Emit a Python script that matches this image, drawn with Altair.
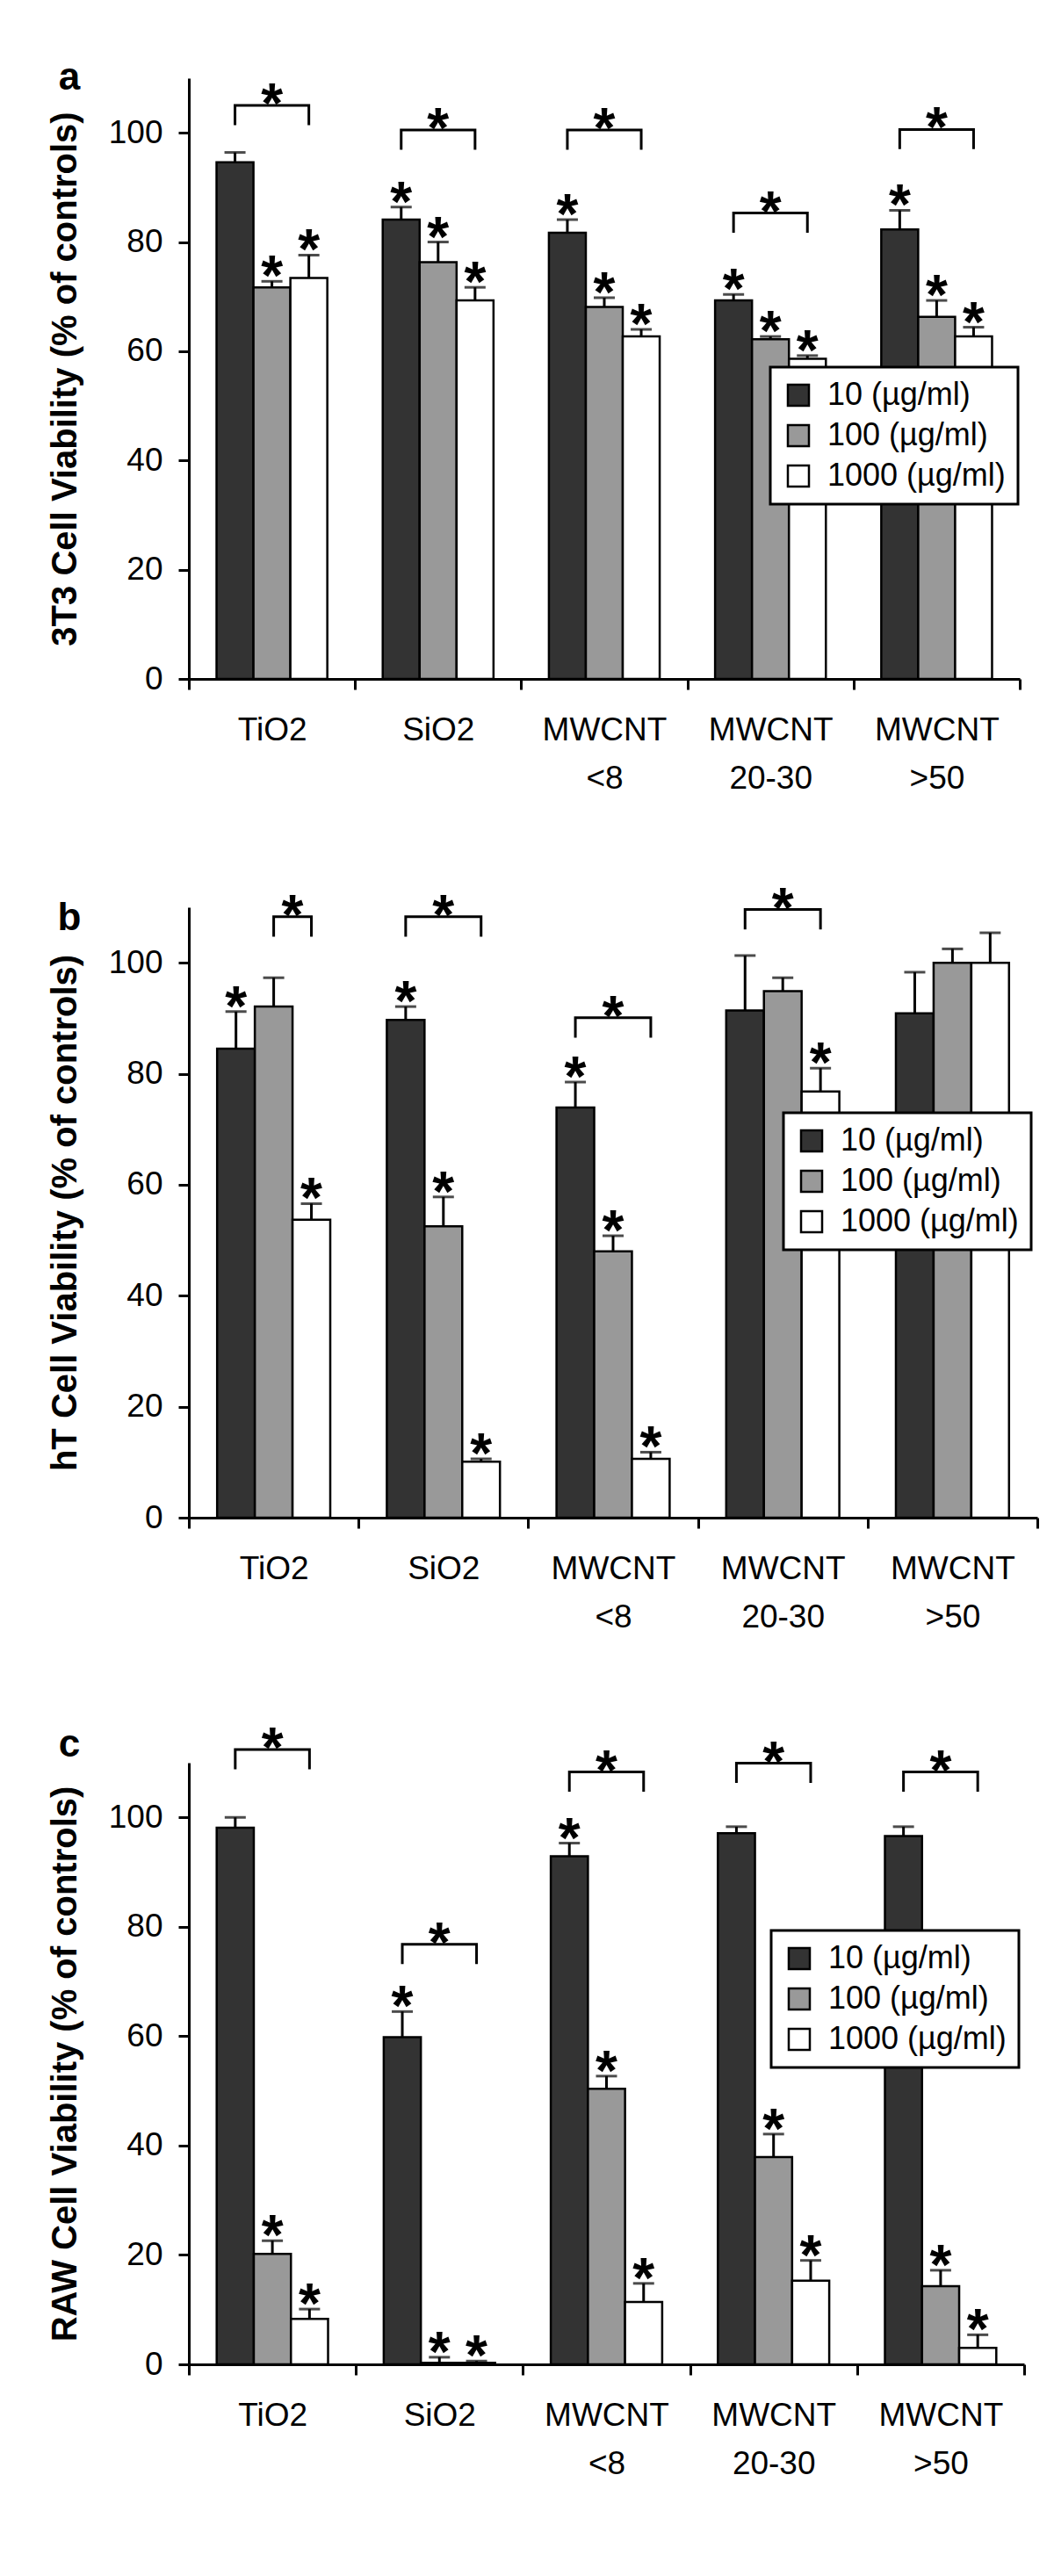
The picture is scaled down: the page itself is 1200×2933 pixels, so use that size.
import altair as alt
import pandas as pd

# ---------------- data ----------------
categories = ["TiO2", "SiO2", "MWCNT\n<8", "MWCNT\n20-30", "MWCNT\n>50"]
series = ["10 (µg/ml)", "100 (µg/ml)", "1000 (µg/ml)"]
fills = ["#333333", "#999999", "#ffffff"]
panel_labels = ["a", "b", "c"]
y_titles = ["3T3 Cell Viability (% of controls)",
            "hT Cell Viability (% of controls)",
            "RAW Cell Viability (% of controls)"]

# panel a (3T3)
a_10 = [94.6, 84.1, 81.7, 69.3, 82.3]
a_10_hi = [96.4, 86.4, 84.1, 70.4, 85.8]
a_100 = [71.7, 76.3, 68.1, 62.2, 66.3]
a_100_hi = [72.8, 80.0, 69.8, 62.7, 69.3]
a_1000 = [73.4, 69.3, 62.7, 58.6, 62.7]
a_1000_hi = [77.6, 71.7, 64.0, 59.2, 64.4]
a_star_10 = [0, 1, 1, 1, 1]
a_star_100 = [1, 1, 1, 1, 1]
a_star_1000 = [1, 1, 1, 1, 1]
a_br_cat = [0, 1, 2, 3, 4]
a_br_from = [0, 0, 0, 0, 0]
a_br_to = [2, 2, 2, 2, 2]
a_br_top = [105.0, 100.5, 100.5, 85.3, 100.6]

# panel b (hT)
b_10 = [84.5, 89.7, 73.9, 91.4, 90.9]
b_10_hi = [91.2, 92.1, 78.5, 101.3, 98.3]
b_100 = [92.1, 52.5, 48.0, 94.9, 100.0]
b_100_hi = [97.3, 57.8, 50.8, 97.3, 102.5]
b_1000 = [53.7, 10.1, 10.6, 76.8, 100.0]
b_1000_hi = [56.6, 10.6, 11.8, 81.0, 105.4]
b_star_10 = [1, 1, 1, 0, 0]
b_star_100 = [0, 1, 1, 0, 0]
b_star_1000 = [1, 1, 1, 1, 0]
b_br_cat = [0, 1, 2, 3]
b_br_from = [1, 0, 0, 0]
b_br_to = [2, 2, 2, 2]
b_br_top = [108.3, 108.3, 90.1, 109.6]

# panel c (RAW)
c_10 = [98.1, 59.8, 92.9, 97.1, 96.6]
c_10_hi = [100.0, 64.5, 95.3, 98.3, 98.3]
c_100 = [20.2, 0.3, 50.4, 37.9, 14.3]
c_100_hi = [22.6, 1.3, 52.7, 42.1, 17.2]
c_1000 = [8.3, 0.3, 11.4, 15.3, 3.0]
c_1000_hi = [10.1, 0.6, 14.8, 19.0, 5.4]
c_star_10 = [0, 1, 1, 0, 0]
c_star_100 = [1, 1, 1, 1, 1]
c_star_1000 = [1, 1, 1, 1, 1]
c_br_cat = [0, 1, 2, 3, 4]
c_br_from = [0, 0, 0, 0, 0]
c_br_to = [2, 2, 2, 2, 2]
c_br_top = [112.4, 76.8, 108.3, 109.9, 108.3]

BR_DROP = 3.6

# ---------------- style ----------------
LF = "Liberation Sans, Arial, sans-serif"
TF = "Liberation Sans, Arial, sans-serif"
OFF_PAD = 0.75
STEP = 1.0 / (len(series) + 2 * OFF_PAD)
FIRST = (OFF_PAD + 0.5) * STEP
STAR_SIZE = 64


def panel(label, title, means, his, stars, br, width, height, top_off,
          lx, ly, label_y):
    rows = []
    for j, s in enumerate(series):
        for i, c in enumerate(categories):
            rows.append(dict(cat=c, ser=s, value=means[j][i], hi=his[j][i],
                             star=stars[j][i]))
    df = pd.DataFrame(rows)

    yaxis = alt.Axis(values=[0, 20, 40, 60, 80, 100], labelPadding=18,
                     titlePadding=29)
    yscale = alt.Scale(domain=[0, 110], nice=False, zero=True,
                       range=[height + top_off, top_off])

    def Y(field):
        return alt.Y(field, scale=yscale, axis=yaxis, title=title)

    X = alt.X("cat:N", sort=categories, title=None,
              scale=alt.Scale(paddingInner=0, paddingOuter=0),
              axis=alt.Axis(labelAngle=0, labelPadding=28, labelLineHeight=55,
                            tickBand="extent",
                            labelExpr="split(datum.label, '\\n')"))
    XO = alt.XOffset("ser:N", sort=series,
                     scale=alt.Scale(paddingInner=0, paddingOuter=OFF_PAD))

    base = alt.Chart(df)
    bars = base.mark_bar(stroke="black", strokeWidth=2.5).encode(
        x=X, xOffset=XO, y=Y("value:Q"),
        fill=alt.Fill("ser:N", sort=series,
                      scale=alt.Scale(domain=series, range=fills),
                      legend=alt.Legend(title=None, orient="none",
                                        legendX=lx, legendY=ly,
                                        symbolType="square", symbolSize=576,
                                        symbolStrokeColor="black",
                                        symbolStrokeWidth=2.5,
                                        symbolOpacity=1,
                                        labelFontSize=36, labelFont=LF,
                                        labelColor="black",
                                        labelOffset=15, labelLimit=400,
                                        rowPadding=10, padding=14,
                                        fillColor="white",
                                        strokeColor="black")))
    err = base.mark_rule(color="black", strokeWidth=3).encode(
        x=X, xOffset=XO, y=Y("value:Q"), y2="hi:Q")
    cap = base.mark_tick(color="black", thickness=3, size=24).encode(
        x=X, xOffset=XO, y=Y("hi:Q"))
    st = base.transform_filter("datum.star == 1").mark_text(
        text="*", fontSize=STAR_SIZE, fontWeight="bold", font=TF,
        color="black", baseline="alphabetic", dy=16).encode(
        x=X, xOffset=XO, y=Y("hi:Q"))

    cats, frm, to, top = br
    brows, srows = [], []
    for k in range(len(cats)):
        xs = cats[k] + FIRST + STEP * frm[k]
        xe = cats[k] + FIRST + STEP * to[k]
        pts = [(xs, top[k] - BR_DROP), (xs, top[k]), (xe, top[k]),
               (xe, top[k] - BR_DROP)]
        for o, (xx, yy) in enumerate(pts):
            brows.append(dict(k=k, ord=o, xq=xx, y=yy))
        srows.append(dict(xq=(xs + xe) / 2, y=top[k]))
    XQ = alt.X("xq:Q", scale=alt.Scale(domain=[0, len(categories)], nice=False,
                                       zero=False), axis=None)
    brline = alt.Chart(pd.DataFrame(brows)).mark_line(
        color="black", strokeWidth=3, strokeCap="butt",
        strokeJoin="miter").encode(x=XQ, y=Y("y:Q"), detail="k:N",
                                   order="ord:Q")
    brstar = alt.Chart(pd.DataFrame(srows)).mark_text(
        text="*", fontSize=STAR_SIZE, fontWeight="bold", font=TF,
        color="black", baseline="alphabetic", dy=20).encode(x=XQ, y=Y("y:Q"))
    lab = alt.Chart(pd.DataFrame({"t": [label]})).mark_text(
        fontSize=44, fontWeight="bold", font=TF, color="black",
        align="center", baseline="alphabetic").encode(
        text="t:N", x=alt.value(-136), y=alt.value(label_y))

    inner = alt.layer(bars, err, cap, st)
    outer = alt.layer(inner, alt.layer(brline, brstar, lab)).resolve_scale(
        x="independent")
    return outer.properties(width=width, height=height + top_off)


pa = panel(panel_labels[0], y_titles[0],
           [a_10, a_100, a_1000], [a_10_hi, a_100_hi, a_1000_hi],
           [a_star_10, a_star_100, a_star_1000],
           (a_br_cat, a_br_from, a_br_to, a_br_top),
           946, 684, 0, 662, 329, 13)
pb = panel(panel_labels[1], y_titles[1],
           [b_10, b_100, b_1000], [b_10_hi, b_100_hi, b_1000_hi],
           [b_star_10, b_star_100, b_star_1000],
           (b_br_cat, b_br_from, b_br_to, b_br_top),
           966, 695, 0, 677, 234, 26)
pc = panel(panel_labels[2], y_titles[2],
           [c_10, c_100, c_1000], [c_10_hi, c_100_hi, c_1000_hi],
           [c_star_10, c_star_100, c_star_1000],
           (c_br_cat, c_br_from, c_br_to, c_br_top),
           951, 685, 19, 663, 210, 12)

chart = alt.vconcat(pa, pb, pc, spacing=260, bounds="flush").resolve_scale(
    fill="independent", x="independent", y="independent",
    xOffset="independent").resolve_legend(fill="independent").properties(
    padding={"left": 46, "top": 59, "right": 5, "bottom": 5},
    background="white"
).configure_view(stroke=None).configure_axis(
    domainColor="black", domainWidth=3, tickColor="black", tickWidth=3,
    tickSize=12, labelColor="black", labelFont=LF, labelFontSize=37,
    titleFont=TF, titleFontWeight="bold", titleFontSize=40,
    titleColor="black", grid=False
).configure_legend(strokeWidth=3)

chart.save("out.html", embed_options={"renderer": "svg", "actions": False})
